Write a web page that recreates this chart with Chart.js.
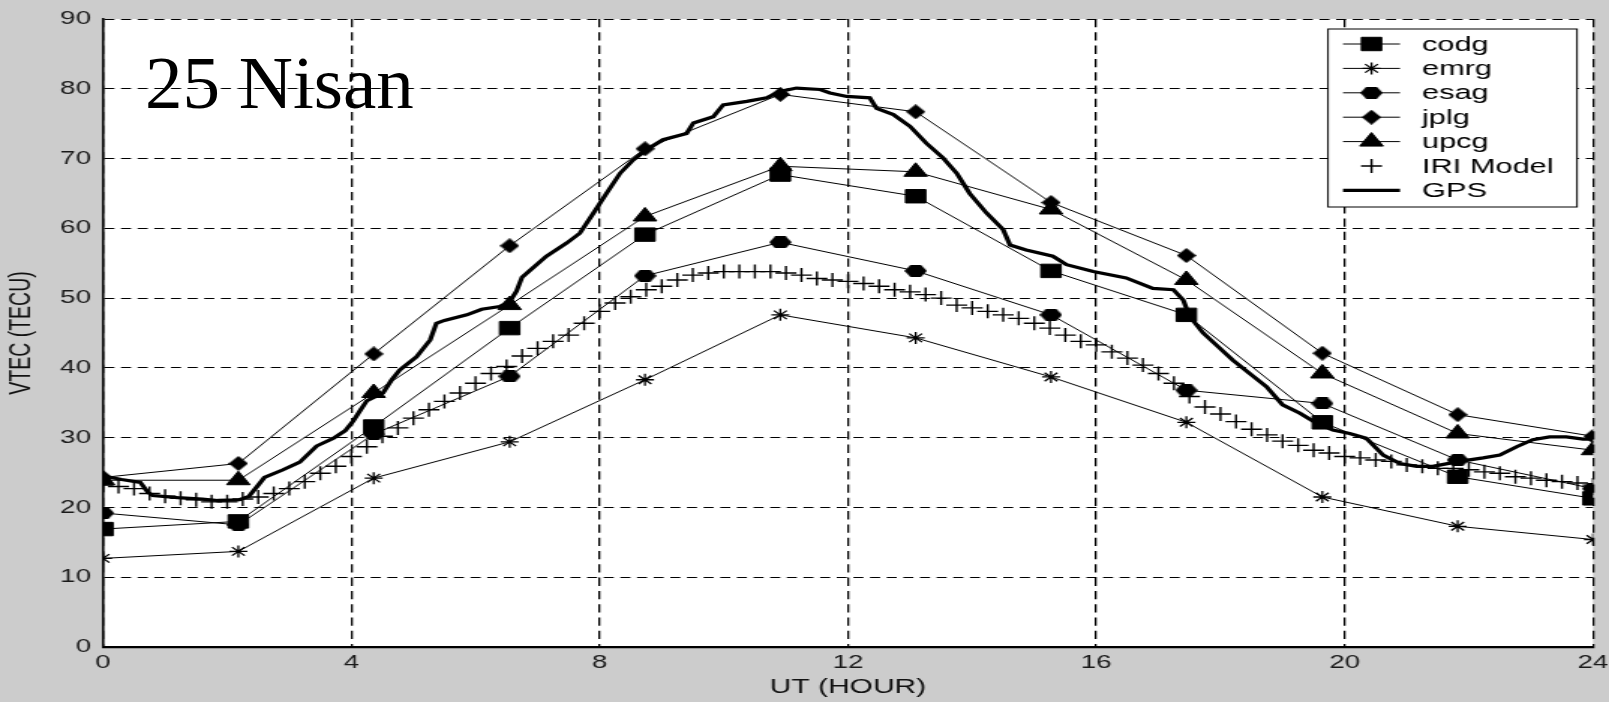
<!DOCTYPE html>
<html>
<head>
<meta charset="utf-8">
<script src="https://cdn.jsdelivr.net/npm/chart.js@4.4.1/dist/chart.umd.min.js"></script>
<style>
html,body{margin:0;padding:0;background:#cccccc;width:1609px;height:702px;overflow:hidden;}
#wrap{position:absolute;left:0;top:0;width:1073px;height:702px;transform:scaleX(1.49953);transform-origin:0 0;}
#note{position:absolute;left:145px;top:45px;font-family:"Liberation Serif","Times New Roman",serif;font-size:75px;line-height:75px;color:#000;white-space:nowrap;}
</style>
</head>
<body>
<div id="wrap"><canvas id="c"></canvas></div>
<div id="note">25 Nisan</div>
<script>
// ---- data ----
const seriesNames = ['codg', 'emrg', 'esag', 'jplg', 'upcg', 'IRI Model', 'GPS'];
const xTicks = [0, 4, 8, 12, 16, 20, 24];
const yTicks = [0, 10, 20, 30, 40, 50, 60, 70, 80, 90];

const modelHours = [0, 2.18, 4.36, 6.55, 8.73, 10.91, 13.09, 15.27, 17.45, 19.64, 21.82, 24];
const codg = [16.9, 18.0, 31.6, 45.7, 59.1, 67.7, 64.6, 53.9, 47.6, 32.2, 24.4, 21.3];
const emrg = [12.7, 13.7, 24.2, 29.4, 38.3, 47.6, 44.3, 38.7, 32.2, 21.5, 17.3, 15.4];
const esag = [19.2, 17.5, 30.5, 38.8, 53.2, 58.0, 53.9, 47.6, 36.8, 34.9, 26.8, 22.7];
const jplg = [24.3, 26.3, 42.0, 57.5, 71.4, 79.2, 76.7, 63.7, 56.1, 42.1, 33.3, 30.2];
const upcg = [23.9, 23.9, 36.4, 49.0, 61.7, 68.9, 68.1, 62.7, 52.6, 39.2, 30.6, 28.2];

const iriHours = [0, 0.25, 0.5, 0.75, 1, 1.25, 1.5, 1.75, 2, 2.25, 2.5, 2.75, 3, 3.25, 3.5, 3.75,
  4, 4.25, 4.5, 4.75, 5, 5.25, 5.5, 5.75, 6, 6.25, 6.5, 6.75, 7, 7.25, 7.5, 7.75,
  8, 8.25, 8.5, 8.75, 9, 9.25, 9.5, 9.75, 10, 10.25, 10.5, 10.75, 11, 11.25, 11.5, 11.75,
  12, 12.25, 12.5, 12.75, 13, 13.25, 13.5, 13.75, 14, 14.25, 14.5, 14.75, 15, 15.25, 15.5, 15.75,
  16, 16.25, 16.5, 16.75, 17, 17.25, 17.5, 17.75, 18, 18.25, 18.5, 18.75, 19, 19.25, 19.5, 19.75,
  20, 20.25, 20.5, 20.75, 21, 21.25, 21.5, 21.75, 22, 22.25, 22.5, 22.75, 23, 23.25, 23.5, 23.75, 24];
const iriTec = [23.2, 23.0, 22.7, 22.0, 21.6, 21.3, 21.1, 20.8, 20.8, 21.2, 21.5, 22.0, 22.7, 23.7, 24.9, 25.9,
  27.3, 28.7, 30.2, 31.4, 32.8, 34.0, 35.2, 36.4, 37.8, 39.2, 40.2, 41.7, 42.8, 43.8, 44.7, 46.4,
  48.1, 49.3, 50.2, 51.2, 51.7, 52.6, 53.3, 53.6, 53.8, 53.8, 53.8, 53.8, 53.6, 53.3, 52.8, 52.6,
  52.4, 52.1, 51.7, 51.2, 50.9, 50.5, 50.0, 49.0, 48.6, 48.1, 47.6, 47.1, 46.4, 45.7, 44.7, 43.8,
  43.3, 42.3, 41.4, 40.4, 39.2, 37.8, 35.9, 34.4, 33.4, 32.3, 31.2, 30.4, 29.5, 28.9, 28.2, 27.8,
  27.3, 27.1, 26.8, 26.6, 26.1, 25.9, 25.6, 25.6, 25.4, 25.1, 24.9, 24.4, 24.2, 23.9, 23.7, 23.5, 23.2];

const gpsHours = [0, 0.3, 0.6, 0.72, 0.8, 1.2, 1.6, 1.85, 2.2, 2.35, 2.5, 2.6, 2.9, 3.17, 3.44, 3.71,
  3.9, 4.03, 4.15, 4.25, 4.51, 4.65, 4.78, 5.05, 5.27, 5.37, 5.5, 5.86, 6.1, 6.39, 6.55, 6.66,
  6.75, 6.88, 7.14, 7.47, 7.68, 7.9, 8.11, 8.33, 8.54, 8.76, 9.02, 9.4, 9.51, 9.83, 9.99, 10.37,
  10.69, 10.9, 11.17, 11.55, 11.71, 11.98, 12.35, 12.46, 12.73, 13.0, 13.26, 13.53, 13.75, 13.96,
  14.23, 14.5, 14.61, 14.87, 15.3, 15.52, 15.95, 16.48, 16.91, 17.24, 17.4, 17.5, 17.72, 17.93,
  18.2, 18.47, 18.74, 19.0, 19.28, 19.54, 19.81, 20.08, 20.35, 20.62, 20.89, 21.16, 21.42, 21.85,
  22.23, 22.5, 22.77, 23.03, 23.3, 23.57, 23.84, 24];
const gpsTec = [24.5, 24.0, 23.6, 22.2, 21.7, 21.4, 21.2, 21.0, 21.1, 21.6, 23.2, 24.3, 25.4, 26.5, 28.8, 29.9,
  31.0, 32.4, 34.0, 35.3, 36.4, 38.3, 39.7, 41.6, 44.0, 46.4, 46.8, 47.6, 48.4, 48.8, 49.5, 51.0,
  53.0, 54.0, 56.0, 57.9, 59.3, 62.2, 65.0, 67.9, 69.8, 71.3, 72.7, 73.6, 75.1, 76.0, 77.7, 78.2,
  78.7, 79.6, 80.1, 79.9, 79.4, 78.9, 78.7, 77.2, 76.3, 74.6, 72.2, 70.1, 67.9, 65.0,
  62.2, 59.8, 57.6, 56.9, 56.0, 54.8, 53.8, 52.9, 51.4, 51.2, 49.7, 47.4, 45.0, 43.3,
  41.1, 39.2, 37.3, 34.7, 33.5, 32.1, 31.1, 30.6, 29.9, 27.5, 26.3, 25.9, 25.9, 26.6,
  27.1, 27.5, 28.7, 29.7, 30.1, 30.1, 29.8, 29.8];

// ---- drawing ----
const S = 1609 / 1073;            // horizontal stretch of the whole figure
const FONT = '"Liberation Sans", Arial, Helvetica, sans-serif';

function makeMarker(w, h, pts) {
  const c = document.createElement('canvas');
  c.width = w; c.height = h;
  const g = c.getContext('2d');
  g.fillStyle = '#000';
  g.beginPath();
  pts.forEach(([x, y], i) => i ? g.lineTo(x, y) : g.moveTo(x, y));
  g.closePath();
  g.fill();
  return c;
}
const diamondImg = makeMarker(13, 15, [[6.5, 0], [13, 7.5], [6.5, 15], [0, 7.5]]);
const hexImg = makeMarker(15, 12, [[0, 6], [4, 0], [11, 0], [15, 6], [11, 12], [4, 12]]);

const toXY = (xs, ys) => xs.map((x, i) => ({x: x, y: ys[i]}));

function modelSet(label, ys, style, radius) {
  return {
    label: label, data: toXY(modelHours, ys),
    borderColor: '#000', borderWidth: 1, backgroundColor: '#000',
    pointStyle: style, pointRadius: radius, pointHoverRadius: radius,
    pointBackgroundColor: '#000', pointBorderColor: '#000', pointBorderWidth: 1,
    tension: 0, order: 1
  };
}

const datasets = [
  modelSet(seriesNames[0], codg, 'rect', 9.5),
  Object.assign(modelSet(seriesNames[1], emrg, 'star', 6), {pointBorderWidth: 1.3}),
  modelSet(seriesNames[2], esag, hexImg, 7),
  modelSet(seriesNames[3], jplg, diamondImg, 7),
  modelSet(seriesNames[4], upcg, 'triangle', 9),
  {
    label: seriesNames[5], data: toXY(iriHours, iriTec), showLine: false,
    borderColor: '#000', backgroundColor: '#000',
    pointStyle: 'cross', pointRadius: 7, pointBorderColor: '#000', pointBorderWidth: 1.4, order: 2
  },
  {
    label: seriesNames[6], data: toXY(gpsHours, gpsTec),
    borderColor: '#000', borderWidth: 3.2, backgroundColor: '#000',
    pointRadius: 0, tension: 0, order: 0
  }
];

const areaBg = {
  id: 'areaBg',
  beforeDraw(chart) {
    const a = chart.chartArea, ctx = chart.ctx;
    ctx.save();
    ctx.fillStyle = '#ffffff';
    ctx.fillRect(a.left, a.top, a.right - a.left, a.bottom - a.top);
    ctx.restore();
  }
};

const matlabLegend = {
  id: 'matlabLegend',
  afterDatasetsDraw(chart) {
    const ctx = chart.ctx;
    const x0 = 1328 / S, x1 = 1577 / S, y0 = 29, y1 = 207;
    const lx0 = 1343 / S, lx1 = 1400 / S, tx = 1422 / S;
    ctx.save();
    ctx.fillStyle = '#fff';
    ctx.fillRect(x0, y0, x1 - x0, y1 - y0);
    ctx.strokeStyle = '#000';
    ctx.lineWidth = 1;
    ctx.strokeRect(x0, y0, x1 - x0, y1 - y0);
    chart.data.datasets.forEach((ds, i) => {
      const y = 44 + i * 24.4;
      ctx.strokeStyle = '#000';
      ctx.fillStyle = '#000';
      if (ds.showLine !== false) {
        ctx.lineWidth = ds.borderWidth;
        ctx.beginPath();
        ctx.moveTo(lx0, y);
        ctx.lineTo(lx1, y);
        ctx.stroke();
      }
      if (ds.pointRadius > 0) {
        ctx.lineWidth = ds.pointBorderWidth;
        Chart.helpers.drawPoint(ctx, {
          pointStyle: ds.pointStyle, radius: ds.pointRadius, rotation: 0,
          borderWidth: ds.pointBorderWidth
        }, (lx0 + lx1) / 2, y);
      }
      ctx.fillStyle = '#000';
      ctx.font = '20.5px ' + FONT;
      ctx.textBaseline = 'middle';
      ctx.textAlign = 'left';
      ctx.fillText(ds.label, tx, y + 1);
    });
    ctx.restore();
  }
};

new Chart(document.getElementById('c'), {
  type: 'line',
  data: {datasets: datasets},
  plugins: [areaBg, matlabLegend],
  options: {
    responsive: true,
    maintainAspectRatio: false,
    animation: false,
    events: [],
    layout: {padding: {left: 0, top: 19, right: 1073 - 1593 / S, bottom: 0}},
    plugins: {legend: {display: false}, tooltip: {enabled: false}, title: {display: false}},
    scales: {
      x: {
        type: 'linear', min: 0, max: 24,
        afterBuildTicks: (s) => { s.ticks = xTicks.map(v => ({value: v})); },
        ticks: {font: {family: FONT, size: 18.5}, color: '#1a1a1a', padding: 5, maxRotation: 0, autoSkip: false},
        grid: {color: '#000', lineWidth: 1.3, drawTicks: false},
        border: {display: true, color: '#000', width: 2.2, dash: [8.3, 5]},
        title: {display: true, text: 'UT (HOUR)', font: {family: FONT, size: 20}, color: '#111', padding: {top: 0, bottom: 3}},
        afterFit: (s) => { s.height = 55; s.paddingLeft = 0; s.paddingRight = 0; }
      },
      y: {
        type: 'linear', min: 0, max: 90,
        afterBuildTicks: (s) => { s.ticks = yTicks.map(v => ({value: v})); },
        ticks: {font: {family: FONT, size: 18.5}, color: '#1a1a1a', padding: 8, autoSkip: false},
        grid: {color: '#000', lineWidth: 1, drawTicks: false},
        border: {display: true, color: '#000', width: 1.6, dash: [6.7, 4.4]},
        title: {display: true, text: 'VTEC (TECU)', font: {family: FONT, size: 19.5}, color: '#111', padding: {top: 3, bottom: 0}},
        afterFit: (s) => { s.width = 103 / S; s.paddingTop = 0; s.paddingBottom = 0; }
      }
    }
  }
});
</script>
</body>
</html>
